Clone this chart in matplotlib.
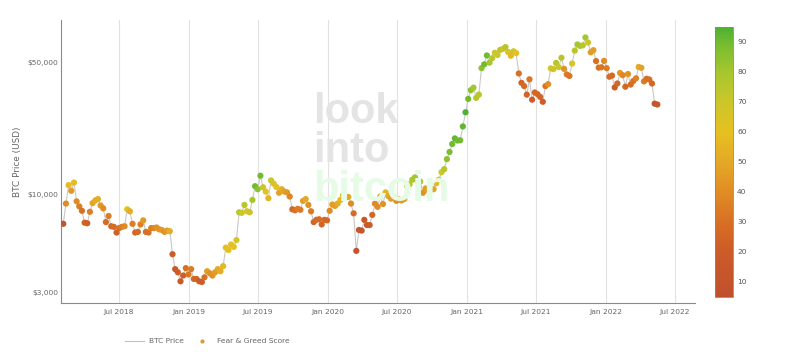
import matplotlib
matplotlib.use("Agg")
import matplotlib.pyplot as plt
from matplotlib.colors import LinearSegmentedColormap, Normalize
from matplotlib.lines import Line2D
import pandas as pd

# Weekly (Monday) samples starting 2018-02-05
price_2018 = [6955, 8900, 11150, 10400, 11500, 9150, 8600, 8150, 7050, 7000, 8050, 8950, 9250,
              9400, 8700, 8400, 7100, 7650, 6750, 6700, 6250, 6600, 6700, 6750, 8300, 8100,
              6950, 6250, 6300, 6900, 7250, 6300, 6250, 6600, 6600, 6650, 6500, 6450, 6300,
              6400, 6350, 4800, 4000, 3850, 3450, 3700, 4050, 3750]
fg_2018 = [12, 40, 58, 45, 58, 40, 35, 30, 24, 22, 35, 48, 52,
           52, 44, 40, 28, 35, 26, 28, 22, 30, 35, 40, 60, 52,
           35, 25, 28, 35, 45, 30, 30, 35, 38, 42, 42, 44, 42,
           46, 52, 20, 16, 20, 18, 22, 30, 32]
price_2019 = [4000, 3550, 3550, 3450, 3420, 3620, 3900, 3800, 3700, 3850, 4000, 3900,
              4150, 5200, 5050, 5400, 5250, 5700, 8000, 7950, 8750, 8100, 8000, 9300, 11000,
              10600, 12500, 10850, 10300, 9500, 11800, 11350, 10900, 10150, 10600, 10300,
              10200, 9700, 8300, 8200, 8350, 8250, 9200, 9400, 8750, 8100, 7100, 7300, 7350,
              6900, 7300, 7250]
fg_2019 = [34, 26, 25, 20, 20, 30, 46, 42, 42, 46, 50, 52,
           56, 62, 60, 62, 60, 66, 75, 70, 75, 66, 70, 80, 90,
           85, 90, 70, 60, 55, 70, 65, 60, 48, 52, 48,
           44, 38, 26, 30, 34, 34, 46, 50, 42, 34, 24, 28, 28,
           24, 28, 26]
price_2020 = [8150, 8800, 8650, 8900, 9300, 9850, 9650, 9650, 8900, 7900, 5000, 6450, 6400,
              7300, 6850, 6850, 7750, 8900, 8550, 9700, 8850, 10200, 9750, 9450, 9650, 9200,
              9350, 9250, 9400, 11050, 11250, 11900, 12250, 11750, 11650, 10150, 10700, 10450,
              10700, 10600, 11400, 11900, 13050, 13550, 15300, 16700, 18400, 19700, 19200,
              19250, 22800, 27100]
fg_2020 = [40, 46, 46, 52, 56, 60, 55, 50, 40, 28, 10, 12, 12,
           15, 16, 20, 26, 40, 40, 50, 42, 55, 50, 46, 46, 42,
           44, 44, 46, 70, 75, 78, 80, 76, 75, 42, 46, 46,
           46, 48, 56, 62, 70, 76, 85, 88, 90, 92, 90,
           90, 92, 95]
price_2021 = [31900, 35500, 36600, 32300, 33600, 46400, 48600, 54200, 49600, 52400, 56000,
              54500, 58000, 58700, 60000, 56500, 54000, 57000, 55800, 43500, 38800, 37300,
              33600, 40500, 31600, 34500, 33800, 32700, 30800, 37300, 38200, 46300, 45900,
              49500, 47000, 52700, 46000, 43000, 42200, 49100, 57500, 62000, 60900, 61300,
              67500, 63500, 56300, 57800, 50600, 46700, 46900, 50700]
fg_2021 = [90, 85, 80, 76, 76, 85, 90, 90, 80, 75, 70,
           70, 75, 70, 75, 65, 56, 70, 60, 30, 24, 28,
           24, 32, 20, 26, 26, 24, 20, 32, 42, 65, 70,
           75, 70, 75, 42, 34, 32, 65, 75, 80, 80, 75,
           80, 70, 46, 46, 30, 30, 32, 40]
price_2022 = [46400, 41800, 42400, 36700, 38500, 43800, 42600, 37000, 43200, 38000, 39700,
              41000, 47100, 46600, 39500, 40800, 40400, 38500, 30100, 29800]
fg_2022 = [34, 28, 28, 20, 26, 44, 38, 26, 42, 28, 30,
           36, 52, 48, 34, 30, 30, 27, 12, 14]

prices = price_2018 + price_2019 + price_2020 + price_2021 + price_2022
fear_greed = fg_2018 + fg_2019 + fg_2020 + fg_2021 + fg_2022
dates = pd.date_range("2018-02-05", periods=len(prices), freq="7D")

tick_dates = ["2018-07-01", "2019-01-01", "2019-07-01", "2020-01-01", "2020-07-01",
              "2021-01-01", "2021-07-01", "2022-01-01", "2022-07-01"]
y_ticks = [3000, 10000, 50000]
y_tick_labels = ["$3,000", "$10,000", "$50,000"]
cbar_ticks = [10, 20, 30, 40, 50, 60, 70, 80, 90]

cmap = LinearSegmentedColormap.from_list(
    "fg", [(0.0, "#c0502c"), (0.17, "#cc5c28"), (0.28, "#d87024"), (0.39, "#e08c24"),
           (0.5, "#e4a828"), (0.61, "#e6c020"), (0.72, "#ccc62a"), (0.83, "#a8c62e"),
           (0.94, "#76bc30"), (1.0, "#4cb034")])
norm = Normalize(vmin=5, vmax=95)

fig = plt.figure(figsize=(8.01, 3.60), dpi=100)
ax = fig.add_axes([61/801, 57/360, 634/801, 283/360])

# watermark
wm = dict(transform=fig.transFigure, fontsize=30, fontweight="bold",
          family="Liberation Sans", ha="left", va="baseline", zorder=0)
fig.text(313/801, 1 - 123/360, "look", color="#e4e4e4", **wm)
fig.text(313/801, 1 - 162/360, "into", color="#e4e4e4", **wm)
fig.text(313/801, 1 - 201/360, "bitcoin", color="#e6fbe6", **wm)
ax.set_facecolor("none")

ax.plot(dates, prices, color="#c8c8c8", lw=0.8, zorder=2)
sc = ax.scatter(dates, prices, c=fear_greed, cmap=cmap, norm=norm, s=20,
                edgecolors="none", zorder=3)

ax.set_yscale("log")
ax.set_ylim(2647, 83500)
ax.set_xlim(pd.Timestamp("2018-01-30"), pd.Timestamp("2022-08-23"))
ax.set_yticks(y_ticks)
ax.set_yticklabels(y_tick_labels)
ax.yaxis.set_minor_locator(matplotlib.ticker.NullLocator())
xt = [pd.Timestamp(d) for d in tick_dates]
ax.set_xticks(xt)
ax.set_xticklabels([d.strftime("%b %Y") for d in xt])
ax.tick_params(axis="both", length=0, labelsize=5.4, colors="#666666")
ax.tick_params(axis="x", pad=4)
ax.tick_params(axis="y", pad=2)
ax.grid(axis="x", color="#e2e2e2", lw=0.8)
ax.set_axisbelow(True)
for s in ["top", "right"]:
    ax.spines[s].set_visible(False)
for s in ["left", "bottom"]:
    ax.spines[s].set_color("#8a8a8a")
    ax.spines[s].set_linewidth(0.8)
ax.set_ylabel("BTC Price (USD)", fontsize=6.4, color="#666666")
ax.yaxis.set_label_coords(-0.0615, 0.5)

cax = fig.add_axes([715/801, 63/360, 18/801, 270/360])
cb = fig.colorbar(sc, cax=cax, ticks=cbar_ticks)
cb.outline.set_edgecolor("#888888")
cb.outline.set_linewidth(0.6)
cax.tick_params(length=0, labelsize=5.4, colors="#555555", pad=3)

handles = [Line2D([0], [0], color="#c0c0c0", lw=0.8),
           Line2D([0], [0], marker="o", color="none", markerfacecolor="#dc9a3a",
                  markeredgecolor="none", markersize=3)]
fig.legend(handles, ["BTC Price", "Fear & Greed Score"], loc="center",
           bbox_to_anchor=(207/801, 1 - 341/360), ncol=2, frameon=False,
           fontsize=5.4, labelcolor="#666666", handlelength=2.6, columnspacing=1.2,
           handletextpad=0.6)

fig.savefig("out.png", dpi=100)
